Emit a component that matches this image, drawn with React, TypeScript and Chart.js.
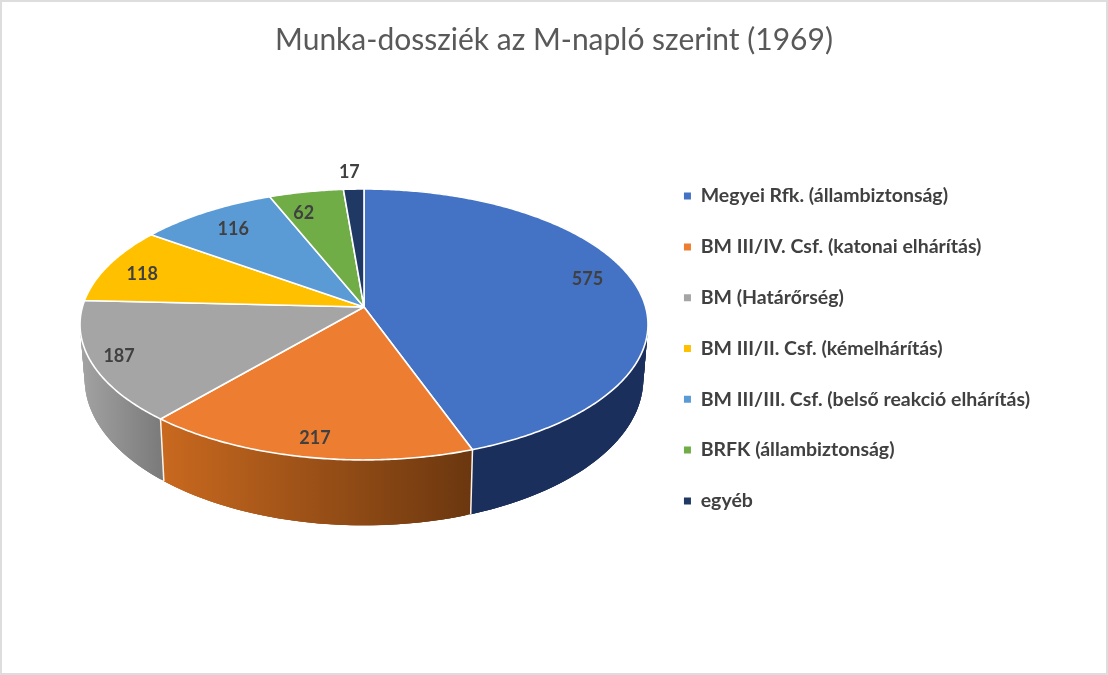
import React, { useEffect, useRef } from "react";
import { Chart, registerables } from "chart.js";

Chart.register(...registerables);

const titleText = "Munka-dossziék az M-napló szerint (1969)";
const categories = [
  "Megyei Rfk. (állambiztonság)",
  "BM III/IV. Csf. (katonai elhárítás)",
  "BM (Határőrség)",
  "BM III/II. Csf. (kémelhárítás)",
  "BM III/III. Csf. (belső reakció elhárítás)",
  "BRFK (állambiztonság)",
  "egyéb",
];
const values = [575, 217, 187, 118, 116, 62, 17];
const colors = ["#4472c4", "#ed7d31", "#a5a5a5", "#ffc000", "#5b9bd5", "#70ad47", "#1f3864"];
const wallFrom = ["#1b2f5c", "#c9691f", "#a3a3a3", "#b08500", "#3f6d96", "#4e7a32", "#14264a"];
const wallTo = ["#1b2f5c", "#6b370f", "#7b7b7b", "#8a6800", "#3f6d96", "#4e7a32", "#14264a"];
const labelRadius = [0.82, 0.84, 0.74, 0.76, 0.76, 0.8, 1.15];
const labelShiftX = [0, -1, -46, -26, -8, -13, -3];
const labelShiftY = [-9, 8, 9, -1, -4, 0, -2];

const CX = 364;
const K = 0.129;
const TOP = { y0: 307, rx: 281.6, ry: 133.2 };
const BOTTOM = { y0: 360, rx: 277, ry: 144 };

function project(a: number, r: number, g: { y0: number; rx: number; ry: number }) {
  const u = Math.cos(a) * r;
  const v = Math.sin(a) * r;
  const d = 1 - K * v;
  return { x: CX + (g.rx * u) / d, y: g.y0 + (g.ry * v) / d };
}

function rim(start: number, end: number, g: { y0: number; rx: number; ry: number }) {
  const n = Math.max(4, Math.ceil((end - start) / 0.01));
  const pts = [];
  for (let i = 0; i <= n; i++) pts.push(project(start + ((end - start) * i) / n, 1, g));
  return pts;
}

const pie3d = {
  id: "pie3d",
  beforeDraw(chart: any) {
    const c = chart.ctx;
    c.save();
    c.fillStyle = "#ffffff";
    c.fillRect(0, 0, chart.width, chart.height);
    c.strokeStyle = "#dddddd";
    c.lineWidth = 4;
    c.strokeRect(0, 0, chart.width, chart.height);
    c.restore();
  },
  beforeDatasetDraw(chart: any) {
    const c = chart.ctx;
    const arcs = chart.getDatasetMeta(0).data;
    c.save();
    // walls: overlapping quads along the rim keep the silhouette tangent and seamless
    arcs.forEach((arc: any, i: number) => {
      const top = rim(arc.startAngle, arc.endAngle, TOP);
      const bot = rim(arc.startAngle, arc.endAngle, BOTTOM);
      const xs = top.map((p) => p.x);
      const grad = c.createLinearGradient(Math.min(...xs), 0, Math.max(...xs), 0);
      grad.addColorStop(0, wallFrom[i]);
      grad.addColorStop(1, wallTo[i]);
      c.fillStyle = grad;
      for (let j = 0; j < top.length - 1; j++) {
        const e = Math.min(j + 3, top.length - 1);
        c.beginPath();
        c.moveTo(top[j].x, top[j].y);
        c.lineTo(top[e].x, top[e].y);
        c.lineTo(bot[e].x, bot[e].y);
        c.lineTo(bot[j].x, bot[j].y);
        c.closePath();
        c.fill();
      }
    });
    // visible seams of the wall
    c.strokeStyle = "#fff3e8";
    c.lineWidth = 1.5;
    arcs.forEach((arc: any) => {
      const s = Math.sin(arc.startAngle);
      if (s > 0.2) {
        const a = project(arc.startAngle, 1, TOP);
        const b = project(arc.startAngle, 1, BOTTOM);
        c.beginPath();
        c.moveTo(a.x, a.y);
        c.lineTo(b.x, b.y);
        c.stroke();
      }
    });
    // top face
    c.lineJoin = "round";
    arcs.forEach((arc: any, i: number) => {
      const top = rim(arc.startAngle, arc.endAngle, TOP);
      c.beginPath();
      c.moveTo(CX, TOP.y0);
      top.forEach((p) => c.lineTo(p.x, p.y));
      c.closePath();
      c.fillStyle = colors[i];
      c.fill();
      c.strokeStyle = "#ffffff";
      c.lineWidth = 1.6;
      c.stroke();
    });
    // value labels
    c.fillStyle = "#404040";
    c.font = "bold 18px Lato";
    c.textAlign = "center";
    c.textBaseline = "middle";
    arcs.forEach((arc: any, i: number) => {
      const mid = (arc.startAngle + arc.endAngle) / 2;
      const p = project(mid, labelRadius[i], TOP);
      c.fillText(String(values[i]), p.x + labelShiftX[i], p.y + labelShiftY[i]);
    });
    c.restore();
    return false;
  },
};

export default function App() {
  const ref = useRef<HTMLCanvasElement | null>(null);
  useEffect(() => {
    document.body.style.margin = "0";
    const chart = new Chart(ref.current as HTMLCanvasElement, {
      type: "pie",
      data: {
        labels: categories,
        datasets: [{ data: values, backgroundColor: colors, borderWidth: 0 }],
      },
      options: {
        responsive: false,
        animation: false,
        layout: { padding: { top: 22, left: 68, right: 68, bottom: 0 } },
        plugins: {
          title: {
            display: true,
            text: titleText,
            color: "#595959",
            font: { family: "Lato", size: 30, weight: "normal" },
            padding: { top: 0, bottom: 0 },
          },
          legend: {
            position: "right",
            labels: {
              color: "#404040",
              font: { family: "Lato", size: 19.5, weight: "bold" },
              usePointStyle: true,
              pointStyle: "rect",
              boxWidth: 7,
              boxHeight: 7,
              padding: 31.3,
            },
          },
          tooltip: { enabled: false },
        },
      },
      plugins: [pie3d],
    } as any);
    return () => chart.destroy();
  }, []);
  return <canvas ref={ref} width={1108} height={675} style={{ display: "block" }} />;
}
